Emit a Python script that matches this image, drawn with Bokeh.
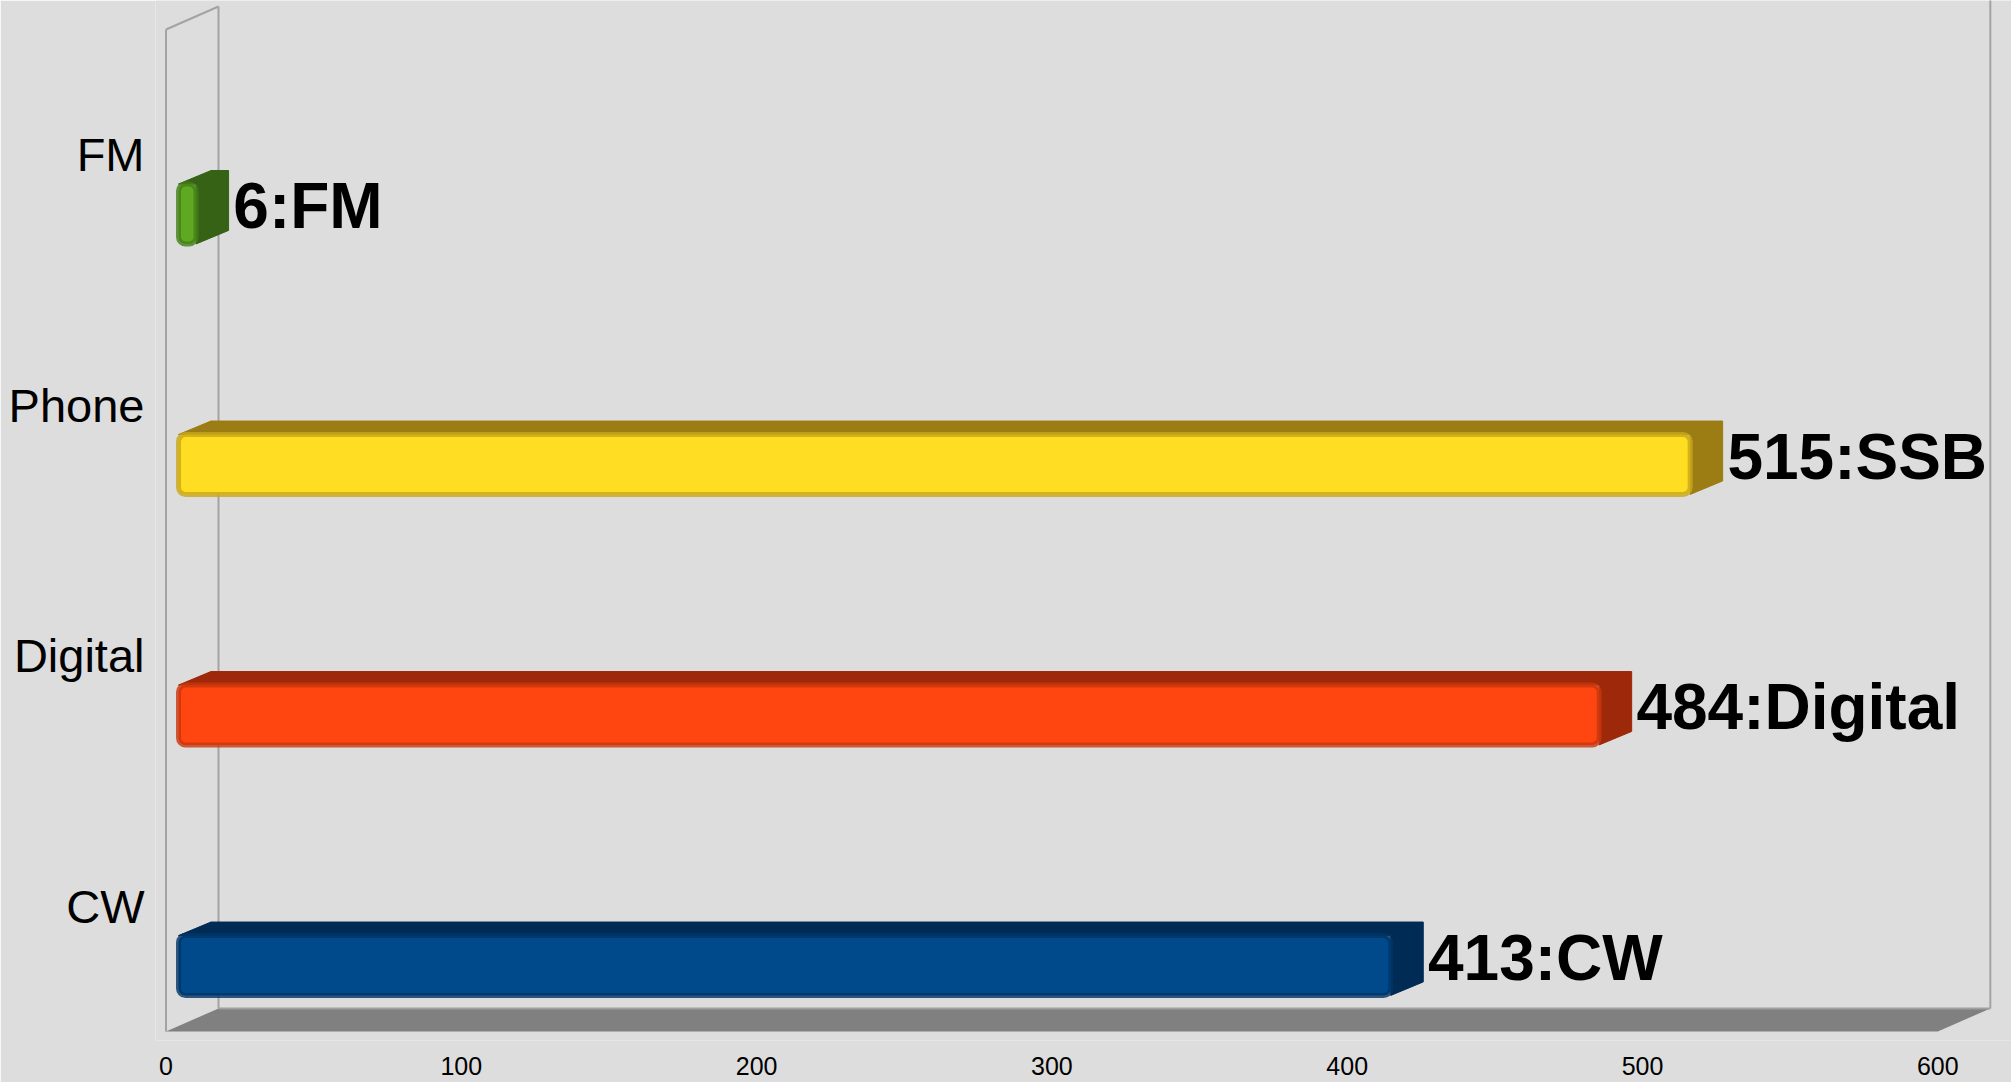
from bokeh.plotting import figure
from bokeh.models import ColumnDataSource, FixedTicker, Range1d
from bokeh.core.properties import value
from bokeh.embed import file_html
from bokeh.resources import INLINE

# ---- data ----
categories = ["CW", "Digital", "Phone", "FM"]
counts = [413, 484, 515, 6]
bar_labels = ["413:CW", "484:Digital", "515:SSB", "6:FM"]
x_ticks = [0, 100, 200, 300, 400, 500, 600]

# ---- style ----
front_colors = ["#004a8c", "#ff4611", "#ffdd22", "#5fa821"]
shade_colors = ["#002b54", "#9e280a", "#9b7d14", "#356215"]
edge_colors = ["#003566", "#c9360c", "#c9a819", "#437e18"]
BG = "#dddddd"
FONT = "Liberation Sans"

# 3D look (data units)
DEPTH_X = 17.78      # full wall depth along x
DEPTH_Y = 0.092      # full wall depth along y
BAR_X0 = 4.23        # bar front face offset from front plane
BAR_SCALE = 0.994    # perspective shrink of the bar face
BAR_DX = 11.0        # bar depth along x
BAR_DY = 0.054       # bar depth along y
FACE_TOP = -0.117    # front face top relative to category centre
FACE_BOT = -0.356    # front face bottom relative to category centre
LABEL_DY = -0.205
LABEL_GAP = 1.6

n = len(categories)
centers = [i + 0.5 for i in range(n)]
xmax = x_ticks[-1]

p = figure(width=2011, height=1082, output_backend="svg", toolbar_location=None,
           x_range=Range1d(-3.556, 624.95), y_range=Range1d(-0.0359, 4.1158),
           min_border_left=155, min_border_right=0, min_border_top=0, min_border_bottom=42,
           background_fill_color=BG, border_fill_color=BG, outline_line_color=None)
p.grid.visible = False

# floor
p.patch([0, xmax, xmax + DEPTH_X, DEPTH_X], [0, 0, DEPTH_Y, DEPTH_Y],
        fill_color="#808080", line_color=None)
p.line([DEPTH_X, xmax + DEPTH_X], [DEPTH_Y, DEPTH_Y], line_color="#a0a0a0", line_width=2)
# wall edges
wall = dict(line_color="#a3a3a3", line_width=2)
p.line([0, 0], [0, n], **wall)
p.line([0, DEPTH_X], [n, n + DEPTH_Y], **wall)
p.line([DEPTH_X, DEPTH_X], [DEPTH_Y, n + DEPTH_Y], **wall)
p.line([xmax + DEPTH_X, xmax + DEPTH_X], [DEPTH_Y, n + 0.2], **wall)

# bars
xs, ys, lefts, rights, tops, bots, lx, ly = [], [], [], [], [], [], [], []
for c, v in zip(centers, counts):
    ft, fb = c + FACE_TOP, c + FACE_BOT
    xr = BAR_X0 + v * BAR_SCALE
    xs.append([BAR_X0, BAR_X0 + BAR_DX, xr + BAR_DX, xr + BAR_DX, xr, xr])
    ys.append([ft, ft + BAR_DY, ft + BAR_DY, fb + BAR_DY, fb, ft])
    lefts.append(BAR_X0); rights.append(xr); tops.append(ft); bots.append(fb)
    lx.append(xr + BAR_DX + LABEL_GAP); ly.append(c + LABEL_DY)

src = ColumnDataSource(dict(xs=xs, ys=ys, left=lefts, right=rights, top=tops, bottom=bots,
                            front=front_colors, shade=shade_colors, edge=edge_colors,
                            lx=lx, ly=ly, label=bar_labels))
p.patches("xs", "ys", source=src, fill_color="shade", line_color="shade", line_width=1)
p.quad(left="left", right="right", top="top", bottom="bottom", source=src,
       fill_color="front", line_color="edge", line_width=5, line_alpha=0.8, border_radius=7)
p.text(x="lx", y="ly", text="label", source=src, text_font=value(FONT),
       text_font_style="bold", text_font_size="64px", text_baseline="middle",
       text_align="left", text_color="black")

# axes
xa = p.xaxis[0]
xa.ticker = FixedTicker(ticks=x_ticks)
xa.axis_line_color = None
xa.major_tick_line_color = None
xa.minor_tick_line_color = None
xa.major_tick_out = 0
xa.major_tick_in = 0
xa.major_label_standoff = 16
xa.major_label_text_font = FONT
xa.major_label_text_font_size = "25px"
xa.major_label_text_color = "black"

ya = p.yaxis[0]
ya.ticker = FixedTicker(ticks=centers)
ya.major_label_overrides = {c: name for c, name in zip(centers, categories)}
ya.axis_line_color = None
ya.major_tick_line_color = None
ya.minor_tick_line_color = None
ya.major_tick_out = 0
ya.major_tick_in = 0
ya.major_label_standoff = 11
ya.major_label_text_font = FONT
ya.major_label_text_font_size = "47px"
ya.major_label_text_color = "black"

open("out.html", "w").write(file_html(p, INLINE))
